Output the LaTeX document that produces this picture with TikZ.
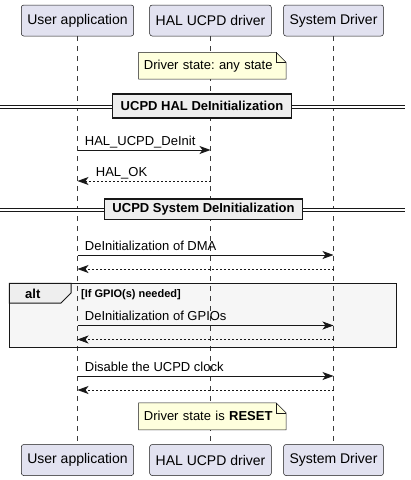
\documentclass[tikz,border=0pt]{standalone}
\usepackage{fontspec}
\setmainfont{Liberation Sans}
\usepackage{tikz}
\usetikzlibrary{arrows.meta,positioning,backgrounds}
\usepackage{xcolor}
\frenchspacing
\definecolor{umlline}{HTML}{181818}
\definecolor{partfill}{HTML}{E2E2F0}
\definecolor{notefill}{HTML}{FEFFDD}
\definecolor{altfill}{HTML}{F6F6F6}
\definecolor{tabfill}{HTML}{EEEEEE}

\tikzset{
  participant/.style={draw=umlline, fill=partfill, rounded corners=2.5pt, line width=0.5pt,
    minimum height=31pt, inner xsep=6pt, font=\fontsize{14}{16}\selectfont},
  lifeline/.style={draw=umlline!85, line width=0.5pt, dash pattern=on 5pt off 5pt},
  msg/.style={draw=umlline, line width=0.8pt, -{Stealth[length=11pt,width=8pt,inset=3pt]}},
  reply/.style={msg, dash pattern=on 2pt off 2pt},
  msglabel/.style={anchor=base west, inner sep=0pt, xshift=7pt, yshift=5pt,
    font=\fontsize{13}{15}\selectfont},
  notetext/.style={anchor=west, text width=137pt, align=left, inner xsep=5pt,
    minimum height=26.5pt, font=\fontsize{13}{15}\selectfont},
  notebox/.style={draw=umlline, fill=notefill, line width=0.5pt},
  divider/.style={draw=umlline, line width=0.9pt, double=white, double distance=2pt},
  dividerbox/.style={draw=umlline, fill=tabfill, line width=1.5pt, minimum height=24pt,
    inner xsep=8pt, font=\bfseries\fontsize{13}{15}\selectfont},
}

\begin{document}
\begin{tikzpicture}[x=1pt, y=-1pt]
\useasboundingbox (0,0) rectangle (411,480);

% participants
\node (ua) [participant] at (77.5,20.5) {User application};
\node (hal) [participant] at (210.5,20.5) {HAL UCPD driver};
\node (sys) [participant] at (333.5,20.5) {System Driver};
\node (uab) [participant] at (77.5,460) {User application};
\node (halb) [participant] at (210.5,460) {HAL UCPD driver};
\node (sysb) [participant] at (333.5,460) {System Driver};

\foreach \n/\y in {1/150,2/181,3/255,4/269,5/325.5,6/339.5,7/376,8/390} {
  \coordinate (ua\n) at (ua |- 0,\y);
  \coordinate (hal\n) at (hal |- 0,\y);
  \coordinate (sys\n) at (sys |- 0,\y);
}

\begin{scope}[on background layer]
  \filldraw[fill=altfill, draw=none] (9.3,283.3) rectangle (396.7,347.7);
  \draw[lifeline] (ua) -- (uab);
  \draw[lifeline] (hal) -- (halb);
  \draw[lifeline] (sys) -- (sysb);
\end{scope}

% alt group
\filldraw[fill=tabfill, draw=umlline, line width=1pt] (9.3,283.3) -- (71,283.3) -- (71,293) -- (61,303) -- (9.3,303) -- cycle;
\draw[umlline, line width=1.5pt] (9.3,283.3) rectangle (396.7,347.7);
\node (alt) [font=\bfseries\fontsize{13}{15}\selectfont, anchor=base west, inner sep=0pt] at (25,298.5) {alt};
\node (cond) [font=\bfseries\fontsize{11}{13}\selectfont, anchor=base west, inner sep=0pt] at (81,297.5) {[If GPIO(s) needed]};

% messages
\draw[msg] (ua1) node[msglabel] {HAL\_UCPD\_DeInit} -- (hal1);
\draw[reply] (hal2) -- (ua2) node[msglabel, xshift=11pt] {HAL\_OK};
\draw[msg] (ua3) node[msglabel] {DeInitialization of DMA} -- (sys3);
\draw[reply] (sys4) -- (ua4);
\draw[msg] (ua5) node[msglabel] {DeInitialization of GPIOs} -- (sys5);
\draw[reply] (sys6) -- (ua6);
\draw[msg] (ua7) node[msglabel] {Disable the UCPD clock} -- (sys7);
\draw[reply] (sys8) -- (ua8);

% dividers
\draw[divider] (0,106.7) -- (405,106.7);
\node (div1) [dividerbox] at (202,106.2) {UCPD HAL DeInitialization};
\draw[divider] (0,210) -- (405,210);
\node (div2) [dividerbox, minimum height=20.5pt] at (203.5,209.2) {UCPD System DeInitialization};

% notes
\node (note1) [notetext] at (138.7,65.7) {Driver state: any state};
\node (note2) [notetext] at (138.7,416.3) {Driver state is \textbf{RESET}};
\foreach \nt in {note1,note2} {
  \begin{scope}[on background layer]
    \filldraw[notebox] (\nt.south west) -- (\nt.north west) -- ([xshift=-10pt]\nt.north east)
      -- ([yshift=-10pt]\nt.north east) -- (\nt.south east) -- cycle;
  \end{scope}
  \draw[notebox, fill=none] ([xshift=-10pt]\nt.north east) |- ([yshift=-10pt]\nt.north east);
}
\end{tikzpicture}
\end{document}
